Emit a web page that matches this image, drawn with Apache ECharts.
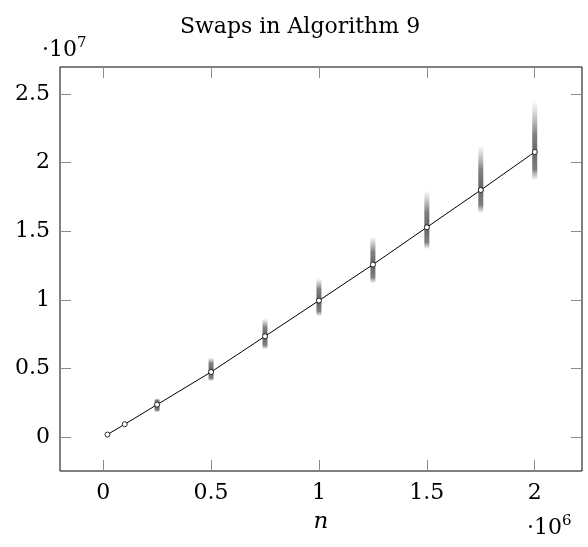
<!DOCTYPE html>
<html>
<head>
<meta charset="utf-8">
<script src="https://cdn.jsdelivr.net/npm/echarts@6/dist/echarts.min.js"></script>
<style>html,body{margin:0;padding:0;background:#fff}#c{width:588px;height:547px}</style>
</head>
<body>
<div id="c"></div>
<script>
// n values (problem sizes)
var nValues = [20000, 100000, 250000, 500000, 750000, 1000000, 1250000, 1500000, 1750000, 2000000];
// mean number of swaps
var meanSwaps = [200000, 950000, 2380000, 4756000, 7356000, 9956000, 12580000, 15295000, 18010000, 20780000];
// cloud extents per n: faint top, dense top, dense bottom, faint bottom
var cloudFaintHigh = [250000, 1100000, 2840000, 5830000, 8670000, 11580000, 14640000, 18000000, 21270000, 24500000];
var cloudDenseHigh = [230000, 1050000, 2700000, 5390000, 8000000, 10780000, 13500000, 16400000, 19450000, 22000000];
var cloudDenseLow  = [170000, 850000, 1970000, 4300000, 6700000, 9180000, 11650000, 14200000, 16900000, 19500000];
var cloudFaintLow  = [150000, 800000, 1820000, 4080000, 6400000, 8800000, 11200000, 13700000, 16300000, 18700000];
// tick positions
var xTicks = [0, 500000, 1000000, 1500000, 2000000];
var yTicks = [0, 5000000, 10000000, 15000000, 20000000, 25000000];

var FONT = '"DejaVu Serif", "Liberation Serif", serif';

var cloudData = nValues.map(function (n, i) {
  return [n, cloudFaintHigh[i], cloudDenseHigh[i], cloudDenseLow[i], cloudFaintLow[i]];
});
var meanData = nValues.map(function (n, i) { return [n, meanSwaps[i]]; });

var chart = echarts.init(document.getElementById('c'), null, {renderer: 'canvas'});

var xMin = -200000, xMax = 2219000, yMin = -2455000, yMax = 26970000;

function xLab(v) { return String(+(v / 1e6).toFixed(2)); }
function yLab(v) { return String(+(v / 1e7).toFixed(2)); }

var tickStyle = {color: '#8a8a8a', width: 1};
var noLine = {show: false, onZero: false};

chart.setOption({
  animation: false,
  backgroundColor: '#fff',
  title: {
    text: 'Swaps in Algorithm 9',
    left: 295, top: 11, textAlign: 'center',
    textStyle: {fontFamily: FONT, fontSize: 22, fontWeight: 'normal', color: '#000'}
  },
  grid: {
    left: 60, right: 6, top: 67, bottom: 76,
    show: true, borderColor: '#000', borderWidth: 1, backgroundColor: 'transparent'
  },
  xAxis: [{
    type: 'value', min: xMin, max: xMax, position: 'bottom',
    name: 'n', nameLocation: 'middle', nameGap: 40,
    nameTextStyle: {fontFamily: FONT, fontStyle: 'italic', fontSize: 23, color: '#000'},
    axisLine: noLine,
    axisTick: {show: true, inside: true, length: 11, lineStyle: tickStyle, customValues: xTicks},
    axisLabel: {show: true, margin: 11, fontFamily: FONT, fontSize: 22, color: '#000', customValues: xTicks, formatter: xLab},
    splitLine: {show: false}
  }, {
    type: 'value', min: xMin, max: xMax, position: 'top',
    axisLine: noLine,
    axisTick: {show: true, inside: true, length: 11, lineStyle: tickStyle, customValues: xTicks},
    axisLabel: {show: false},
    splitLine: {show: false}
  }],
  yAxis: [{
    type: 'value', min: yMin, max: yMax, position: 'left',
    axisLine: noLine,
    axisTick: {show: true, inside: true, length: 11, lineStyle: tickStyle, customValues: yTicks},
    axisLabel: {show: true, margin: 10, fontFamily: FONT, fontSize: 22, color: '#000', customValues: yTicks, formatter: yLab},
    splitLine: {show: false}
  }, {
    type: 'value', min: yMin, max: yMax, position: 'right',
    axisLine: noLine,
    axisTick: {show: true, inside: true, length: 11, lineStyle: tickStyle, customValues: yTicks},
    axisLabel: {show: false},
    splitLine: {show: false}
  }],
  graphic: [{
    type: 'text', left: 42, top: 36,
    style: {
      text: '{a|·10}{b|7}',
      rich: {
        a: {fontFamily: FONT, fontSize: 22, color: '#000', verticalAlign: 'bottom'},
        b: {fontFamily: FONT, fontSize: 15, color: '#000', verticalAlign: 'top', padding: [0, 0, 10, 0]}
      }
    }
  }, {
    type: 'text', left: 527, top: 514,
    style: {
      text: '{a|·10}{b|6}',
      rich: {
        a: {fontFamily: FONT, fontSize: 22, color: '#000', verticalAlign: 'bottom'},
        b: {fontFamily: FONT, fontSize: 15, color: '#000', verticalAlign: 'top', padding: [0, 0, 10, 0]}
      }
    }
  }],
  series: [{
    type: 'custom',
    xAxisIndex: 0, yAxisIndex: 0,
    data: cloudData,
    encode: {x: 0, y: [1, 2, 3, 4]},
    z: 2,
    renderItem: function (params, api) {
      var x = api.value(0);
      var p0 = api.coord([x, api.value(1)]);
      var p1 = api.coord([x, api.value(2)]);
      var p2 = api.coord([x, api.value(3)]);
      var p3 = api.coord([x, api.value(4)]);
      var h = Math.max(p3[1] - p0[1], 1);
      var w = 5;
      var s1 = (p1[1] - p0[1]) / h, s2 = (p2[1] - p0[1]) / h;
      return {
        type: 'rect',
        shape: {x: p0[0] - w / 2, y: p0[1], width: w, height: h, r: w / 2},
        style: {
          fill: new echarts.graphic.LinearGradient(0, 0, 0, 1, [
            {offset: 0, color: 'rgba(110,110,110,0)'},
            {offset: s1, color: 'rgba(85,85,85,0.75)'},
            {offset: (s1 + s2) / 2, color: 'rgba(75,75,75,0.85)'},
            {offset: s2, color: 'rgba(85,85,85,0.75)'},
            {offset: 1, color: 'rgba(110,110,110,0)'}
          ])
        }
      };
    }
  }, {
    type: 'line',
    xAxisIndex: 0, yAxisIndex: 0,
    data: meanData,
    z: 5,
    symbol: 'circle', symbolSize: 5, showSymbol: true,
    lineStyle: {color: '#000', width: 1},
    itemStyle: {color: '#fff', borderColor: '#000', borderWidth: 0.8}
  }]
});
</script>
</body>
</html>
